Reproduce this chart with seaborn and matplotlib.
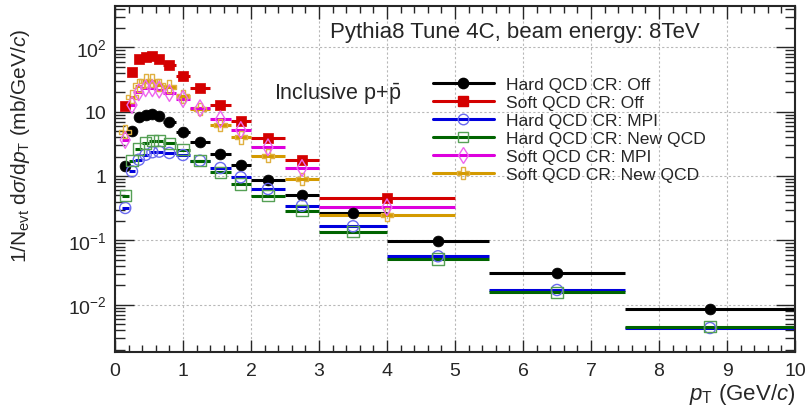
import matplotlib
matplotlib.use("Agg")
import matplotlib.pyplot as plt
from matplotlib.lines import Line2D
from matplotlib.ticker import FixedLocator, MultipleLocator, LogLocator, NullFormatter
import numpy as np
import pandas as pd
import seaborn as sns

# bin edges (GeV/c); soft QCD runs stop with one wide 3-5 bin
soft_edges = [0.1, 0.2, 0.3, 0.4, 0.5, 0.6, 0.7, 0.9, 1.1, 1.4, 1.7, 2.0, 2.5, 3.0, 5.0]
hard_edges = [0.1, 0.2, 0.3, 0.4, 0.5, 0.6, 0.7, 0.9, 1.1, 1.4, 1.7, 2.0, 2.5, 3.0, 4.0, 5.5, 7.5, 10.0]

hard_off = [1.45, 5.07, 8.2, 8.9, 9.2, 8.5, 6.8, 4.9, 3.34, 2.2, 1.48, 0.87, 0.51,
            0.263, 0.0964, 0.0307, 0.00845]
soft_off = [12.1, 41.9, 66, 70, 72.8, 66, 53.2, 36.3, 23.1, 12.7, 7.24, 3.86, 1.77, 0.45]
hard_mpi = [0.318, 1.18, 1.79, 2.14, 2.34, 2.39, 2.28, 2.12, 1.73, 1.33, 0.955, 0.628, 0.345,
            0.165, 0.0564, 0.01686, 0.00432]
hard_newqcd = [0.494, 1.73, 2.63, 3.26, 3.54, 3.54, 3.23, 2.54, 1.73, 1.14, 0.751, 0.494, 0.289,
               0.136, 0.0512, 0.0155, 0.00453]
soft_mpi = [3.63, 12.7, 20, 23.1, 23.1, 22, 19.5, 15.8, 11.3, 7.6, 5.19, 2.79, 1.33, 0.326]
soft_newqcd = [4.89, 17.1, 25.5, 30.3, 30.3, 26, 24.5, 17.3, 11, 6.2, 4.0, 2.07, 0.898, 0.25]

labels = ["Hard QCD CR: Off", "Soft QCD CR: Off", "Hard QCD CR: MPI",
          "Hard QCD CR: New QCD", "Soft QCD CR: MPI", "Soft QCD CR: New QCD"]

sns.set_style("ticks")
plt.rcParams["font.family"] = ["Liberation Sans", "DejaVu Sans"]
plt.rcParams["mathtext.fontset"] = "custom"
plt.rcParams["mathtext.rm"] = "Liberation Sans"
plt.rcParams["mathtext.it"] = "Liberation Sans:italic"
plt.rcParams["mathtext.bf"] = "Liberation Sans:bold"


def to_frame(edges, vals, name):
    e = np.asarray(edges)
    return pd.DataFrame({"pt": (e[:-1] + e[1:]) / 2, "hw": (e[1:] - e[:-1]) / 2,
                         "y": vals, "series": name})


series = [
    (hard_edges, hard_off, "black", "o", "black", "black", 7.8),
    (soft_edges, soft_off, "#d40000", "s", "#d40000", "#d40000", 7.2),
    (hard_edges, hard_mpi, "#0000dd", "o", "none", "#6a6af0", 8),
    (hard_edges, hard_newqcd, "#006400", "s", "none", "#55a055", 8),
    (soft_edges, soft_newqcd, "#d49a00", "P", "none", "#e0b040", 9),
    (soft_edges, soft_mpi, "#dd00dd", "d", "none", "#ee66ee", 8.5),
]
series_labels = [labels[0], labels[1], labels[2], labels[3], labels[5], labels[4]]

fig = plt.figure(figsize=(8.05, 4.14), dpi=100)
ax = fig.add_axes([115 / 805, 61 / 414, 680 / 805, 346 / 414])

handles = {}
for (edges, vals, col, mk, fc, ec, ms), name in zip(series, series_labels):
    df = to_frame(edges, vals, name)
    ax.errorbar(df["pt"], df["y"], xerr=df["hw"], fmt="none", ecolor=col,
                elinewidth=2.2, capsize=0, zorder=2)
    sns.scatterplot(data=df, x="pt", y="y", ax=ax, marker=mk, s=ms ** 2,
                    facecolor=fc, edgecolor=ec, linewidth=1.0 if fc == "none" else 0.5,
                    legend=False, zorder=3)
    handles[name] = Line2D([], [], color=col, lw=2.2, marker=mk, markersize=ms * 0.95,
                           markerfacecolor=fc, markeredgecolor=ec)

ax.set_yscale("log")
ax.set_xlim(0, 10)
ax.set_ylim(1.83e-3, 440)

ax.xaxis.set_major_locator(MultipleLocator(1))
ax.xaxis.set_minor_locator(MultipleLocator(0.2))
ax.yaxis.set_major_locator(FixedLocator([1e-2, 1e-1, 1, 10, 100]))
ax.set_yticklabels(["$10^{-2}$", "$10^{-1}$", "1", "10", "$10^{2}$"])
ax.yaxis.set_minor_locator(LogLocator(base=10, subs=np.arange(2, 10)))
ax.yaxis.set_minor_formatter(NullFormatter())
ax.tick_params(which="both", direction="in", top=True, right=True, labelsize=14)
ax.tick_params(which="major", length=14, width=1.0)
ax.tick_params(which="minor", length=7, width=1.0)
ax.tick_params(axis="x", which="major", length=9)
ax.tick_params(axis="x", which="minor", length=5)
ax.tick_params(axis="x", pad=7)
ax.tick_params(axis="y", pad=6)
ax.grid(True, which="major", ls=(0, (2, 2)), color="#b8b8b8", lw=0.8)
for sp in ax.spines.values():
    sp.set_linewidth(1.5)

ax.set_xlabel(r"$p_{\rm T}$ (GeV/$c$)", fontsize=16, loc="right")
ax.xaxis.set_label_coords(1.0, -0.085)
ax.set_ylabel(r"1/N$_{\rm evt}$ d$\sigma$/d$p_{\rm T}$ (mb/GeV/$c$)", fontsize=15)
ax.yaxis.set_label_coords(-0.122, 0.6)

ax.text(0.86, 0.925, "Pythia8 Tune 4C, beam energy: 8TeV", transform=ax.transAxes,
        ha="right", va="center", fontsize=16)
ax.text(0.328, 0.746, r"Inclusive p+$\bar{\rm p}$", transform=ax.transAxes,
        ha="center", va="center", fontsize=15.5)

ax.legend([handles[l] for l in labels], labels, loc="upper left",
          bbox_to_anchor=(0.449, 0.832), frameon=False, fontsize=12.6,
          handlelength=3.5, handletextpad=0.7, labelspacing=0.16, borderpad=0.2)

fig.savefig("out.png", dpi=100)
